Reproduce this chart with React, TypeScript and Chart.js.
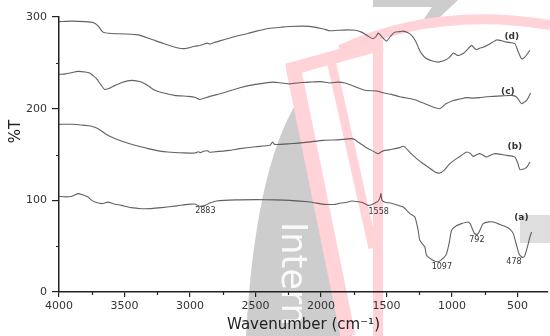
import React, { useEffect, useRef } from 'react';
import { Chart, registerables } from 'chart.js';

Chart.register(...registerables);

// ---- Data (wavenumber in cm-1, transmittance %T, curves offset as in the figure) ----
const WN_A = [4000, 3950, 3900, 3855, 3820, 3779, 3750, 3720, 3676, 3626, 3580, 3524, 3450, 3371, 3300, 3218, 3100, 3015, 2964, 2926, 2883, 2850, 2798, 2650, 2493, 2350, 2238, 2100, 2035, 1971, 1900, 1869, 1800, 1767, 1720, 1691, 1660, 1640, 1610, 1589, 1565, 1550, 1543, 1535, 1513, 1470, 1411, 1373, 1322, 1284, 1259, 1246, 1208, 1195, 1150, 1105, 1060, 1042, 1020, 1004, 970, 928, 877, 860, 851, 830, 813, 800, 788, 763, 720, 686, 640, 584, 555, 533, 508, 490, 469, 455, 444, 420, 406, 393];
const T_A = [104.4, 103.8, 104.5, 107.3, 106, 103.6, 100, 98, 96.4, 98, 96, 94.5, 92, 90.9, 91, 92, 94, 95.6, 96, 93.5, 94.5, 97, 99.2, 100.5, 100.8, 100.5, 100, 98.5, 97, 95.6, 95.5, 96.4, 98, 99.2, 98.5, 98, 96, 94.5, 95.5, 97, 99, 103, 107.3, 100, 98, 97, 94.5, 92.7, 85.5, 81.8, 67.3, 56.4, 49, 40, 35, 33, 38, 41.9, 55, 67.3, 72, 74.6, 76.3, 74, 70.9, 64, 62.9, 64, 67.3, 74.6, 76.5, 76.3, 74, 70.9, 68, 63.7, 51, 42, 38.2, 38, 40, 52, 60, 65.4];

const WN_B = [4000, 3900, 3800, 3760, 3702, 3650, 3600, 3524, 3420, 3320, 3240, 3168, 3050, 2964, 2935, 2920, 2900, 2864, 2850, 2824, 2700, 2620, 2500, 2391, 2370, 2355, 2238, 2100, 1984, 1870, 1768, 1740, 1717, 1660, 1615, 1564, 1540, 1513, 1480, 1437, 1400, 1375, 1360, 1320, 1271, 1230, 1183, 1130, 1093, 1060, 1017, 990, 966, 930, 889, 860, 839, 810, 788, 760, 737, 705, 673, 620, 584, 550, 520, 500, 482, 460, 444, 425, 406];
const T_B = [182.9, 183, 181.8, 181, 178.2, 173, 169, 164.7, 160, 156.4, 154, 152.7, 151.8, 151.6, 153, 152, 153.5, 154, 152.5, 152.7, 154.5, 156.4, 158.5, 160, 163.6, 161, 161.8, 163.5, 165.4, 166, 167.3, 166, 163.6, 158, 154.5, 150.9, 153, 154.5, 155, 156.4, 157.5, 159, 158.1, 152, 145.5, 141, 136.3, 131, 129.8, 133, 140, 143, 145.5, 149, 152.7, 151, 148, 150, 151, 149, 147.2, 149.5, 151, 150, 149, 148.5, 147.2, 141, 133.5, 134, 134.6, 137, 141.8];

const WN_C = [4000, 3950, 3900, 3855, 3800, 3766, 3740, 3714, 3680, 3651, 3620, 3588, 3520, 3447, 3371, 3320, 3269, 3200, 3117, 3015, 2964, 2926, 2900, 2849, 2750, 2620, 2500, 2366, 2300, 2238, 2150, 2086, 2000, 1933, 1871, 1818, 1740, 1666, 1600, 1564, 1520, 1462, 1400, 1360, 1284, 1208, 1150, 1093, 1050, 991, 940, 889, 840, 788, 740, 686, 620, 546, 508, 480, 469, 450, 431, 415, 401];
const T_C = [237.4, 238, 239.5, 240.7, 240, 238.8, 236, 232.7, 226, 221, 222, 224.3, 228.5, 230.9, 229, 225, 220, 217, 214.5, 213.4, 212.5, 210, 211, 213.4, 217, 222.9, 226.5, 229, 228, 227, 228.5, 229, 229.5, 228, 229, 228, 224, 220, 219.5, 219, 217, 215.6, 213, 212, 209.8, 205.4, 202, 200, 205, 209, 210.5, 212, 211.5, 212, 213, 213.4, 214, 214.5, 212.7, 207, 205.4, 207, 209, 213, 217];

const WN_D = [4000, 3900, 3800, 3740, 3700, 3664, 3600, 3500, 3397, 3300, 3200, 3100, 3040, 2964, 2926, 2900, 2870, 2850, 2820, 2748, 2650, 2560, 2493, 2400, 2300, 2238, 2136, 2050, 1971, 1933, 1870, 1793, 1740, 1691, 1660, 1640, 1602, 1580, 1564, 1545, 1520, 1500, 1470, 1437, 1400, 1373, 1340, 1309, 1280, 1255, 1233, 1200, 1150, 1106, 1055, 1020, 991, 970, 953, 930, 902, 880, 851, 830, 813, 790, 763, 720, 660, 620, 584, 550, 520, 495, 469, 444, 420, 406];
const T_D = [295, 295.5, 295, 294, 290, 283.5, 282, 281.5, 280.5, 276, 271, 266.5, 265.5, 268, 269, 270, 271.5, 270.5, 272, 275, 279, 282, 284.6, 287.5, 289, 289.7, 290, 289, 286.5, 285, 285.5, 286, 285.5, 283.5, 281, 279, 276.3, 279, 282.4, 280, 276, 273.7, 279, 283.5, 284, 284.6, 283, 280, 274, 266, 260, 255, 252, 250.8, 252.7, 256, 260.6, 259, 258, 259, 261.7, 265, 269, 266, 264.3, 266, 267, 270, 275, 274, 272.6, 272, 270.8, 262, 254.5, 256.3, 261, 263.6];

const X_MAJOR_TICKS = [4000, 3500, 3000, 2500, 2000, 1500, 1000, 500];
const X_MINOR_TICKS = [3750, 3250, 2750, 2250, 1750, 1250, 750];
const Y_MAJOR_TICKS = [0, 100, 200, 300];
const Y_MINOR_TICKS = [50, 150, 250];

const PEAK_LABELS = ['2883', '1558', '1097', '792', '478'];
const PEAK_X = [2883, 1560, 1078, 811, 528];
const PEAK_Y = [88, 87, 27, 57, 32.4];

const CURVE_LABELS = ['(a)', '(b)', '(c)', '(d)'];
const CURVE_LABEL_X = [471, 521, 574, 544];
const CURVE_LABEL_Y = [81.5, 158.3, 218.9, 278.8];

const toPoints = (xs: number[], ys: number[]) => xs.map((x, i) => ({ x, y: ys[i] }));

// Background watermark of the source image (decoration only)
const watermarkPlugin = {
  id: 'watermark',
  beforeDraw(chart: any) {
    const ctx = chart.ctx as CanvasRenderingContext2D;
    ctx.save();
    // gray leaf shape
    ctx.fillStyle = '#cdcdcd';
    ctx.beginPath();
    ctx.moveTo(246, 336);
    ctx.quadraticCurveTo(255, 170, 297, 102);
    ctx.lineTo(352, 336);
    ctx.closePath();
    ctx.fill();
    // gray pieces at the top
    ctx.beginPath();
    ctx.moveTo(373, 0);
    ctx.lineTo(458, 0);
    ctx.lineTo(438, 19);
    ctx.lineTo(424, 19);
    ctx.lineTo(432, 7);
    ctx.lineTo(373, 7);
    ctx.closePath();
    ctx.fill();
    ctx.fillStyle = '#dedede';
    ctx.fillRect(520, 215, 30, 28);
    // white "Intern" text
    ctx.save();
    ctx.translate(282, 222);
    ctx.rotate(Math.PI / 2);
    ctx.fillStyle = 'rgba(255,255,255,0.9)';
    ctx.font = '35px "DejaVu Sans"';
    ctx.textBaseline = 'alphabetic';
    ctx.fillText('Intern', 0, 0);
    ctx.restore();
    // pink strokes (solid colour so overlaps do not darken)
    ctx.strokeStyle = '#ffd3d8';
    ctx.lineCap = 'butt';
    ctx.lineJoin = 'miter';
    ctx.lineWidth = 15;
    ctx.beginPath();
    ctx.moveTo(293, 66);
    ctx.lineTo(348, 336);
    ctx.stroke();
    ctx.lineWidth = 9;
    ctx.beginPath();
    ctx.moveTo(330, 56);
    ctx.lineTo(373, 248);
    ctx.stroke();
    ctx.lineWidth = 10;
    ctx.beginPath();
    ctx.moveTo(378, 40);
    ctx.lineTo(378, 336);
    ctx.stroke();
    ctx.lineWidth = 13;
    ctx.beginPath();
    ctx.moveTo(287, 70);
    ctx.lineTo(382, 44);
    ctx.stroke();
    ctx.lineWidth = 10;
    ctx.beginPath();
    ctx.moveTo(340, 50);
    ctx.quadraticCurveTo(435, 6, 550, 25);
    ctx.stroke();
    ctx.restore();
  },
};

const extrasPlugin = {
  id: 'extras',
  afterDraw(chart: any) {
    const ctx = chart.ctx as CanvasRenderingContext2D;
    const xs = chart.scales.x;
    const ys = chart.scales.y;
    const area = chart.chartArea;
    ctx.save();
    // minor ticks
    ctx.strokeStyle = '#222';
    ctx.lineWidth = 1.2;
    ctx.beginPath();
    X_MINOR_TICKS.forEach((v) => {
      const px = Math.round(xs.getPixelForValue(v)) + 0.5;
      ctx.moveTo(px, area.bottom);
      ctx.lineTo(px, area.bottom + 3);
    });
    Y_MINOR_TICKS.forEach((v) => {
      const py = Math.round(ys.getPixelForValue(v)) + 0.5;
      ctx.moveTo(area.left - 3, py);
      ctx.lineTo(area.left, py);
    });
    ctx.stroke();
    // y title
    ctx.save();
    ctx.translate(16, ys.getPixelForValue(175));
    ctx.rotate(-Math.PI / 2);
    ctx.font = '15px "DejaVu Sans"';
    ctx.fillStyle = '#222';
    ctx.textAlign = 'center';
    ctx.textBaseline = 'middle';
    ctx.fillText('%T', 0, 0);
    ctx.restore();
    // peak annotations
    ctx.font = '8px "DejaVu Sans"';
    ctx.fillStyle = '#333';
    ctx.textAlign = 'center';
    ctx.textBaseline = 'middle';
    PEAK_LABELS.forEach((t, i) => {
      ctx.fillText(t, xs.getPixelForValue(PEAK_X[i]), ys.getPixelForValue(PEAK_Y[i]));
    });
    ctx.font = 'bold 9px "DejaVu Sans"';
    CURVE_LABELS.forEach((t, i) => {
      ctx.fillText(t, xs.getPixelForValue(CURVE_LABEL_X[i]), ys.getPixelForValue(CURVE_LABEL_Y[i]));
    });
    ctx.restore();
  },
};

export default function App() {
  const ref = useRef<HTMLCanvasElement>(null);
  useEffect(() => {
    const canvas = ref.current;
    if (!canvas) return;
    const lineStyle = {
      borderColor: 'rgba(70,70,70,0.85)',
      borderWidth: 1.1,
      pointRadius: 0,
      tension: 0.2,
      fill: false,
    };
    const chart = new Chart(canvas, {
      type: 'line',
      data: {
        datasets: [
          { label: '(a)', data: toPoints(WN_A, T_A), ...lineStyle },
          { label: '(b)', data: toPoints(WN_B, T_B), ...lineStyle },
          { label: '(c)', data: toPoints(WN_C, T_C), ...lineStyle },
          { label: '(d)', data: toPoints(WN_D, T_D), ...lineStyle },
        ],
      },
      options: {
        animation: false,
        responsive: false,
        devicePixelRatio: 1,
        layout: { padding: { top: 17, right: 2, left: 0, bottom: 0 } },
        plugins: { legend: { display: false }, tooltip: { enabled: false } },
        scales: {
          x: {
            type: 'linear',
            reverse: true,
            min: 268,
            max: 4000,
            afterBuildTicks: (s: any) => {
              s.ticks = X_MAJOR_TICKS.map((v) => ({ value: v }));
            },
            afterFit: (s: any) => {
              s.height = 44;
            },
            ticks: {
              autoSkip: false,
              maxRotation: 0,
              padding: 3,
              color: '#333',
              font: { family: '"DejaVu Sans"', size: 11 },
              callback: (v: any) => String(v),
            },
            grid: { drawOnChartArea: false, tickLength: 5, color: '#222', lineWidth: 1.2 },
            border: { display: true, color: '#222', width: 1.5 },
            title: {
              display: true,
              text: 'Wavenumber (cm⁻¹)',
              color: '#222',
              font: { family: '"DejaVu Sans"', size: 15 },
              padding: { top: 0, bottom: 2 },
            },
          },
          y: {
            type: 'linear',
            min: 0,
            max: 300,
            afterBuildTicks: (s: any) => {
              s.ticks = Y_MAJOR_TICKS.map((v) => ({ value: v }));
            },
            afterFit: (s: any) => {
              s.width = 59;
            },
            ticks: {
              padding: 5,
              color: '#333',
              font: { family: '"DejaVu Sans"', size: 11 },
              callback: (v: any) => String(v),
            },
            grid: { drawOnChartArea: false, tickLength: 7, color: '#222', lineWidth: 1.2 },
            border: { display: true, color: '#222', width: 1.5 },
            title: { display: false },
          },
        },
      } as any,
      plugins: [watermarkPlugin, extrasPlugin],
    });
    return () => chart.destroy();
  }, []);
  return (
    <div style={{ position: 'fixed', left: 0, top: 0, width: 550, height: 336, background: '#fff' }}>
      <canvas ref={ref} width={550} height={336} style={{ display: 'block', width: 550, height: 336 }} />
    </div>
  );
}
